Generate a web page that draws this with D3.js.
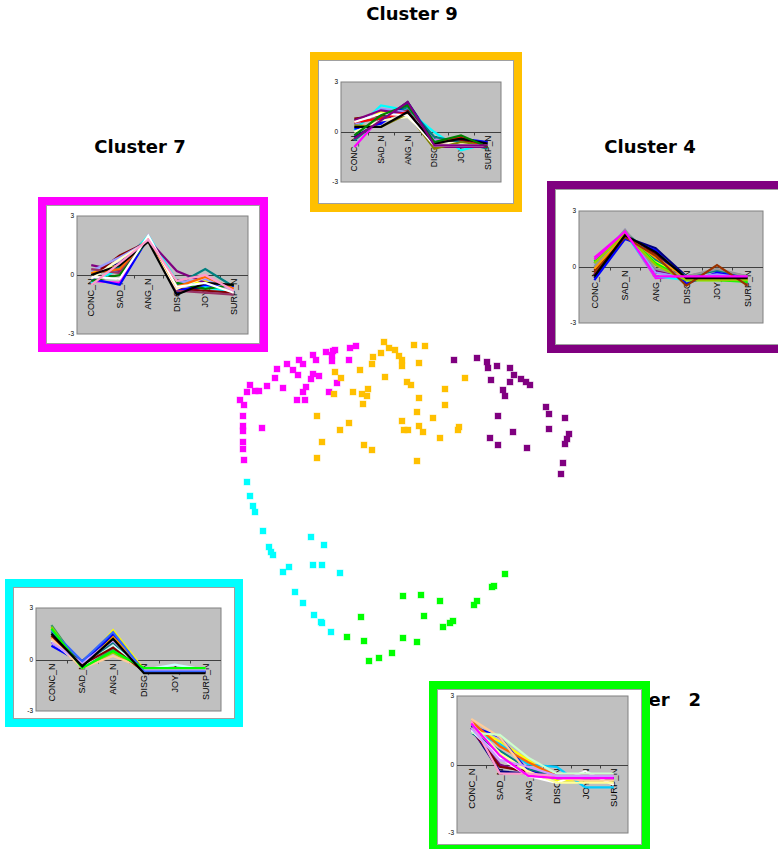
<!DOCTYPE html>
<html>
<head>
<meta charset="utf-8">
<script src="https://cdn.jsdelivr.net/npm/d3@7"></script>
<style>
  body { margin: 0; background: #fff; }
  svg { display: block; }
</style>
</head>
<body>
<svg id="chart" width="778" height="849"></svg>
<script>
// ---- data ----
const emotions = ["CONC_N", "SAD_N", "ANG_N", "DISG_N", "JOY_N", "SURP_N"];
const yTicks = [-3, 0, 3];

// standardized emotion profiles of the members of each cluster
const cluster9Profiles = [
  [-0.3, 0.6, 1.8, -0.6, -0.5, -0.7],
  [-0.9, 0.9, 1.3, -0.5, -0.6, -0.9],
  [0.6, 1.2, 1.0, -0.8, -0.7, -0.8],
  [0.1, 1.6, 1.3, 0.0, -1.1, -0.7],
  [0.5, 0.9, 1.2, -0.8, -0.6, -0.6],
  [0.8, 1.0, 1.3, -0.7, -0.5, -0.9],
  [-0.5, 0.8, 1.5, -0.3, -0.6, -1.0],
  [0.2, 0.5, 1.7, -0.6, -0.4, -0.6],
  [0.4, 1.4, 1.2, -0.5, -0.8, -0.7],
  [0.7, 1.3, 1.1, -0.9, -0.9, -0.9],
  [0.0, 0.7, 0.9, -0.6, -0.7, -0.8],
  [0.4, 0.3, 1.1, -1.0, -0.6, -0.8],
  [0.6, 0.8, 1.2, -0.7, -0.3, -0.9],
  [0.6, 1.1, 1.0, -0.8, -0.8, -0.8],
  [0.3, 0.3, 1.2, -0.7, -0.4, -0.7],
  [-0.2, 1.0, 1.6, -0.6, -0.2, -0.9],
  [-0.4, 0.7, 1.8, -0.8, -0.8, -0.8]
];
const cluster7Profiles = [
  [0.0, 0.6, 1.9, -0.9, -0.6, -0.7],
  [-0.3, -0.4, 2.0, -0.5, -0.5, -0.6],
  [0.1, 0.5, 1.8, -0.6, -0.3, -0.8],
  [-0.4, 0.3, 2.0, -0.3, -0.6, -0.9],
  [0.5, 0.2, 1.8, 0.2, -0.4, -0.7],
  [-0.1, 1.0, 1.7, -0.7, -0.8, -0.9],
  [0.0, 0.4, 1.8, -0.5, 0.3, -0.6],
  [-0.2, -0.5, 1.9, -0.8, -0.5, -0.6],
  [0.2, 0.9, 1.7, -0.4, -0.2, -0.8],
  [0.3, 0.1, 1.9, -0.8, -0.9, -1.0],
  [-0.2, 0.8, 1.7, -0.7, -0.1, -0.7],
  [-0.3, 0.0, 1.8, -0.4, -0.7, -0.5],
  [0.1, 0.3, 1.9, -0.6, -0.1, -0.7],
  [0.0, 0.5, 1.7, -1.0, -0.4, -0.5],
  [-0.1, -0.2, 2.0, -0.6, -0.4, -0.9],
  [-0.5, 0.6, 1.8, -0.3, 0.0, -0.8]
];
const cluster4Profiles = [
  [-0.6, 1.6, 1.0, -0.5, -0.5, -0.5],
  [0.5, 1.9, -0.6, -0.5, -0.5, -0.5],
  [0.4, 1.7, 0.3, -0.7, -0.7, -0.7],
  [0.0, 1.8, -0.5, -0.7, -0.5, -0.6],
  [-0.4, 1.8, -0.2, -0.5, -0.5, -0.5],
  [-0.2, 1.7, 0.7, -0.6, -0.6, -0.6],
  [0.2, 1.9, 0.4, -0.5, -0.2, -0.5],
  [-0.7, 1.5, 0.9, -0.9, -0.3, -0.6],
  [0.3, 1.8, 0.2, -0.7, -0.7, -0.8],
  [0.1, 2.0, -0.3, -0.6, -0.4, -0.6],
  [0.0, 2.0, -0.1, -0.5, -0.1, -0.5],
  [0.2, 1.8, 0.1, -0.7, -0.7, -0.7],
  [-0.1, 1.7, 0.5, -0.6, -0.6, -0.6],
  [-0.3, 1.6, 0.6, -1.0, 0.1, -1.0],
  [-0.5, 1.7, 0.8, -0.6, -0.6, -0.6],
  [0.4, 1.9, -0.5, -0.5, -0.5, -0.5]
];
const cluster1Profiles = [
  [1.0, -0.1, 1.4, -0.7, -0.7, -0.7],
  [2.0, -0.5, 0.6, -0.5, -0.5, -0.5],
  [1.5, -0.4, 1.7, -0.6, -0.6, -0.6],
  [0.8, -0.2, 1.5, -0.7, -0.7, -0.7],
  [1.9, -0.5, 0.4, -0.6, -0.6, -0.6],
  [1.3, -0.5, 1.3, -0.6, -0.6, -0.6],
  [1.6, -0.3, 1.0, -0.6, -0.6, -0.6],
  [1.1, -0.4, 0.8, -0.6, -0.3, -0.6],
  [1.2, -0.5, 0.2, -0.5, -0.5, -0.5],
  [1.4, -0.3, 0.7, -0.7, -0.7, -0.7],
  [1.0, -0.2, 1.1, -0.6, -0.6, -0.6],
  [1.7, -0.1, 1.6, -0.7, -0.7, -0.7],
  [1.8, -0.5, 0.5, -0.5, -0.5, -0.5],
  [1.5, -0.4, 1.2, -0.8, -0.8, -0.8]
];
const cluster2Profiles = [
  [1.6, -0.3, -0.4, -0.5, -0.5, -0.5],
  [1.5, 0.0, -0.4, -0.6, -0.6, -0.6],
  [1.7, 1.0, 0.2, -0.7, -0.7, -0.7],
  [1.5, 0.9, 0.0, -0.1, -1.0, -1.0],
  [1.6, -0.1, -0.3, -0.5, -0.5, -0.5],
  [1.4, 0.6, -0.2, -0.5, -0.5, -0.5],
  [1.7, 1.2, -0.3, -0.6, -0.6, -0.6],
  [1.9, 0.8, 0.1, -0.5, -0.5, -0.5],
  [1.5, 0.3, -0.5, -0.8, -0.3, -0.9],
  [2.0, 1.2, -0.4, -0.6, -0.7, -0.7],
  [1.4, 1.3, 0.3, -0.4, -0.4, -0.4],
  [1.8, 0.5, -0.3, -0.8, -0.8, -0.8],
  [1.9, -0.4, -0.4, -0.5, -0.5, -0.5],
  [1.6, 0.2, -0.1, -0.5, -0.5, -0.5],
  [1.8, 0.4, -0.5, -0.6, -0.6, -0.6]
];

// map coordinates of the members (dimension 1, dimension 2)
const cluster7Points = [
  [12.6,32.4],[12.0,32.2],[10.5,32.0],[10.3,31.9],[9.6,31.8],[10.2,31.5],[8.3,31.5],
  [8.6,31.0],[6.9,31.0],[7.3,30.6],[5.7,30.6],[4.7,30.1],[6.3,30.0],[11.9,31.0],
  [10.2,30.9],[6.8,29.5],[8.3,29.6],[8.9,29.4],[8.1,29.1],[4.5,29.2],[10.7,28.7],
  [2.0,28.5],[3.7,28.4],[5.3,28.2],[7.6,28.3],[7.3,27.8],[1.7,27.8],[2.5,27.9],
  [2.9,27.9],[9.9,27.8],[1.0,27.0],[6.7,27.0],[7.5,27.0],[1.4,26.5],[1.3,25.4],
  [3.2,24.2],[1.3,24.4],[1.3,23.9],[1.3,22.8],[1.3,22.1],[1.4,21.0]
];
const cluster9Points = [
  [15.4,32.8],[18.4,32.5],[19.5,32.4],[15.9,32.2],[16.5,32.0],[15.1,31.7],[16.9,31.4],
  [14.3,31.3],[17.2,31.0],[14.2,30.6],[17.2,30.4],[18.9,30.7],[13.0,30.0],[10.5,29.8],
  [11.1,29.2],[15.5,29.3],[23.5,29.2],[17.7,28.8],[18.1,28.5],[21.5,28.1],[13.8,28.1],
  [12.3,27.8],[10.4,27.6],[13.2,27.6],[13.7,27.4],[18.9,27.2],[13.3,26.6],[21.5,26.5],
  [18.7,25.8],[8.7,25.4],[20.3,25.2],[17.2,24.9],[11.9,24.7],[18.9,24.4],[11.0,24.0],
  [17.4,24.0],[17.8,24.0],[19.3,23.8],[22.9,24.3],[22.8,24.0],[21.0,23.2],[9.2,22.8],
  [13.4,22.5],[14.2,22.0],[8.7,21.2],[18.7,20.9]
];
const cluster4Points = [
  [22.4,31.0],[24.7,31.2],[25.7,30.8],[25.8,30.2],[26.7,30.4],[28.0,30.2],[28.4,29.5],
  [26.1,29.0],[28.0,28.8],[29.1,29.1],[29.6,28.8],[30.0,28.5],[27.3,28.0],[27.5,27.4],
  [31.6,26.3],[31.9,25.6],[26.8,25.4],[33.5,25.2],[28.3,23.8],[31.9,24.1],[33.9,23.6],
  [33.7,23.1],[33.5,22.6],[26.0,23.2],[26.8,22.5],[29.7,22.2],[33.3,20.7],[33.1,19.6]
];
const cluster1Points = [
  [1.7,18.8],[2.0,17.4],[2.3,16.4],[2.5,15.8],[3.3,13.9],[3.9,12.3],[4.1,11.8],
  [4.3,11.5],[8.1,13.3],[9.4,12.5],[5.3,9.8],[5.9,10.3],[8.3,10.5],[9.2,10.5],
  [11.0,9.7],[6.5,7.8],[7.3,6.7],[8.4,5.5],[9.1,4.8],[9.2,4.7],[10.1,3.8]
];
const cluster2Points = [
  [27.5,9.6],[26.4,8.4],[26.2,8.3],[24.7,6.9],[24.4,6.5],[22.3,4.9],[22.0,4.7],
  [21.3,4.3],[17.3,7.4],[19.1,7.5],[21.0,6.9],[19.4,5.4],[13.1,5.3],[11.7,3.3],
  [13.4,2.9],[17.3,3.2],[18.7,2.8],[16.2,1.7],[14.9,1.2],[13.9,0.9]
];

// ---- drawing ----
const svg = d3.select("#chart");
const titleFont = "'DejaVu Sans', Verdana, sans-serif";
const axisFont = "'Liberation Sans', Arial, sans-serif";

// cluster titles (the Cluster 2 title sits partly behind its panel)
const titles = [
  { text: "Cluster 9", x: 412, y: 20, anchor: "middle" },
  { text: "Cluster 7", x: 140, y: 153, anchor: "middle" },
  { text: "Cluster 4", x: 650, y: 153, anchor: "middle" },
  { text: "Cluster   2", x: 597, y: 706, anchor: "start" }
];
svg.append("g").selectAll("text").data(titles).join("text")
  .attr("x", d => d.x).attr("y", d => d.y)
  .attr("text-anchor", d => d.anchor)
  .attr("xml:space", "preserve").style("white-space", "pre")
  .attr("font-family", titleFont).attr("font-weight", "bold").attr("font-size", 18)
  .attr("fill", "#000").text(d => d.text);

// map of cluster members
const mx = d3.scaleLinear().domain([0, 35]).range([230, 580]);
const my = d3.scaleLinear().domain([0, 33]).range([670, 340]);
const mapGroups = [
  { pts: cluster7Points, color: "#ff00ff" },
  { pts: cluster9Points, color: "#ffc000" },
  { pts: cluster4Points, color: "#800080" },
  { pts: cluster1Points, color: "#00ffff" },
  { pts: cluster2Points, color: "#00ff00" }
];
const sq = 6;
mapGroups.forEach(gp => {
  svg.append("g").selectAll("rect").data(gp.pts).join("rect")
    .attr("x", d => mx(d[0]) - sq / 2).attr("y", d => my(d[1]) - sq / 2)
    .attr("width", sq).attr("height", sq)
    .attr("fill", gp.color)
    .attr("stroke", gp.color).attr("stroke-opacity", 0.35).attr("stroke-width", 1);
});

// small line chart of a cluster's profiles inside a coloured frame
const paletteA = ["#000080","#ff00ff","#ffff00","#00ffff","#800080","#800000","#008080","#0000ff",
                  "#9999ff","#993366","#ffffcc","#008000","#ff6600","#000000","#ffffff","#ff99cc","#000000"];
const palette9 = ["#000080","#ff00ff","#ffff00","#00ffff","#993366","#800000","#008080","#0000ff",
                  "#9999ff","#800080","#ffffcc","#808000","#ff0000","#ffffff","#000000","#008000","#800080"];
const palette4 = ["#000080","#ff00ff","#ffff00","#00ffff","#800080","#800000","#008080","#0000ff",
                  "#00ff00","#9999ff","#969696","#99cc00","#ff9900","#993300","#000000","#ff00ff"];
const palette1 = ["#000080","#339966","#ffff00","#0000ff","#99cc00","#ff9900","#008080","#ccffff",
                  "#ffcc99","#800000","#cc99ff","#3366ff","#00ff00","#000000"];
const palette2 = ["#000080","#800080","#ffff00","#00ccff","#800000","#008080","#0000ff","#ff6600",
                  "#ffffff","#ffcc99","#ccffcc","#ffff99","#ff99cc","#cc99ff","#ff00ff"];

const panels = [
  { profiles: cluster9Profiles, colors: palette9, frame: "#ffc000", box: [310, 52, 212, 160], plot: [341, 82, 160, 100], fs: 8.5 },
  { profiles: cluster7Profiles, colors: paletteA, frame: "#ff00ff", box: [38, 197, 230, 155], plot: [77, 216, 171, 118], fs: 9 },
  { profiles: cluster4Profiles, colors: palette4, frame: "#800080", box: [547, 181, 240, 172], plot: [579, 211, 184, 112], fs: 9 },
  { profiles: cluster1Profiles, colors: palette1, frame: "#00ffff", box: [5, 579, 238, 148], plot: [36, 608, 185, 103], fs: 9 },
  { profiles: cluster2Profiles, colors: palette2, frame: "#00ff00", box: [429, 681, 221, 172], plot: [457, 696, 171, 137], fs: 9.5 }
];

function drawPanel(p) {
  const g = svg.append("g");
  const [bx, by, bw, bh] = p.box;
  const b = 8;
  g.append("rect")
    .attr("x", bx + b / 2).attr("y", by + b / 2)
    .attr("width", bw - b).attr("height", bh - b)
    .attr("fill", "#fff").attr("stroke", p.frame).attr("stroke-width", b);
  g.append("rect")
    .attr("x", bx + b + 0.5).attr("y", by + b + 0.5)
    .attr("width", bw - 2 * b - 1).attr("height", bh - 2 * b - 1)
    .attr("fill", "none").attr("stroke", "#a0a0a0").attr("stroke-width", 1);

  const [px, py, pw, ph] = p.plot;
  const xs = d3.scalePoint().domain(emotions).range([px, px + pw]).padding(0.5);
  const ys = d3.scaleLinear().domain([-3, 3]).range([py + ph, py]);

  g.append("rect")
    .attr("x", px).attr("y", py).attr("width", pw).attr("height", ph)
    .attr("fill", "#c0c0c0").attr("stroke", "#808080").attr("stroke-width", 1);

  // value axis labels
  g.append("g").selectAll("text").data(yTicks).join("text")
    .attr("x", px - 3).attr("y", d => ys(d)).attr("dy", "0.35em")
    .attr("text-anchor", "end")
    .attr("font-family", axisFont).attr("font-size", 6.5).attr("fill", "#000")
    .text(d => d);

  // category axis crossing at zero
  const y0 = Math.round(ys(0)) + 0.5;
  const step = xs.step();
  g.append("line")
    .attr("x1", px).attr("x2", px + pw).attr("y1", y0).attr("y2", y0)
    .attr("stroke", "#404040").attr("stroke-width", 1);
  g.append("g").selectAll("line").data(emotions.slice(1)).join("line")
    .attr("x1", d => Math.round(xs(d) - step / 2) + 0.5)
    .attr("x2", d => Math.round(xs(d) - step / 2) + 0.5)
    .attr("y1", y0).attr("y2", y0 + 3)
    .attr("stroke", "#404040").attr("stroke-width", 1);

  g.append("g").selectAll("text").data(emotions).join("text")
    .attr("transform", d => `translate(${xs(d) + p.fs * 0.36},${y0 + 3}) rotate(-90)`)
    .attr("text-anchor", "end")
    .attr("font-family", axisFont).attr("font-size", p.fs).attr("fill", "#000")
    .text(d => d);

  // one polyline per member
  const line = d3.line().x((d, i) => xs(emotions[i])).y(d => ys(d));
  g.append("g").selectAll("path").data(p.profiles).join("path")
    .attr("d", line)
    .attr("fill", "none")
    .attr("stroke", (d, i) => p.colors[i % p.colors.length])
    .attr("stroke-width", 2.2)
    .attr("stroke-linejoin", "miter");
}

panels.forEach(drawPanel);
</script>
</body>
</html>
